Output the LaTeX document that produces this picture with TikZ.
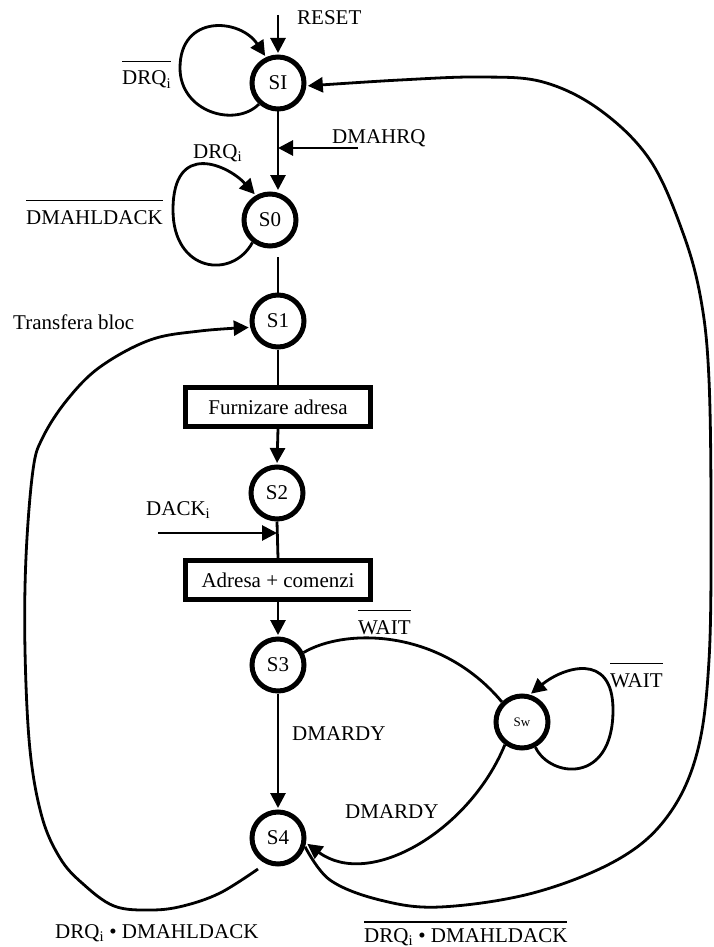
\documentclass[tikz,border=0pt]{standalone}
\usepackage{fontspec}
\setmainfont{Liberation Serif}
\usetikzlibrary{arrows.meta}
\newcommand\ovl[2][1.08em]{\setbox0\hbox{#2}\rlap{\rule[#1]{\wd0}{1.8pt}}\box0}
\begin{document}
\begin{tikzpicture}[x=1pt,y=-1pt,
  state/.style={circle,draw,line width=5pt,minimum size=52pt,inner sep=0pt,font=\fontsize{21}{24}\selectfont},
  smallstate/.style={state,font=\fontsize{13}{15}\selectfont},
  actbox/.style={draw,line width=4.5pt,minimum width=185pt,minimum height=39pt,inner sep=0pt,font=\fontsize{21}{24}\selectfont},
  conn/.style={line width=2.8pt,line join=round},
  arr/.style={conn,-{Triangle[length=15pt,width=15pt]},shorten >=1.5pt},
  lbl/.style={anchor=base west,inner sep=0pt,font=\fontsize{21}{24}\selectfont}]
\useasboundingbox (0,0) rectangle (714,947);

% states
\node[state] (SI) at (278,83) {SI};
\node[state] (S0) at (270,220) {S0};
\node[state] (S1) at (278,321) {S1};
\node[state] (S2) at (277,493) {S2};
\node[state] (S3) at (278,665) {S3};
\node[state] (S4) at (278,838) {S4};
\node[smallstate] (Sw) at (522,722) {Sw};
\node[actbox] (B1) at (278,407) {Furnizare adresa};
\node[actbox] (B2) at (278,580) {Adresa + comenzi};

% free ends
\coordinate (rst) at (278,15);
\coordinate (dmq) at (358,148);
\coordinate (dck) at (158,533);

% labels
\node[lbl] (Lreset) at (297,25) {RESET};
\node[lbl] (Ldrqn) at (122,85) {\ovl{DRQ\textsubscript{i}}};
\node[lbl] (Ldmahrq) at (332,143) {DMAHRQ};
\node[lbl] (Ldrq) at (193,158) {DRQ\textsubscript{i}};
\node[lbl] (Lhldn) at (26,224) {\ovl{DMAHLDACK}};
\node[lbl] (Ltb) at (13,329) {Transfera bloc};
\node[lbl] (Ldack) at (146,515) {DACK\textsubscript{i}};
\node[lbl] (Lwait1) at (358,634) {\ovl{WAIT}};
\node[lbl] (Lrdy1) at (292,740) {DMARDY};
\node[lbl] (Lwait2) at (610,687) {\ovl{WAIT}};
\node[lbl] (Lrdy2) at (345,818) {DMARDY};
\node[lbl] (Lend1) at (55,938) {DRQ\textsubscript{i} • DMAHLDACK};
\node[lbl] (Lend2) at (364,942) {\ovl[0.9em]{DRQ\textsubscript{i} • DMAHLDACK}};

% straight connectors
\draw[arr] (rst) -- (SI.north);
\draw[arr] (SI.south) -- (SI.south |- S0.north);
\draw[arr,shorten >=0pt] (dmq) -- (dmq -| SI.south);
\draw[conn,shorten >=8pt] (S1.north) -- (S1.north |- S0.south);
\draw[conn] (S1.south) -- (B1.north);
\draw[arr] (B1.south) -- (S2.north);
\draw[conn] (S2.south) -- (B2.north);
\draw[arr,shorten >=0pt] (dck) -- (dck -| S2.south);
\draw[arr] (B2.south) -- (S3.north);
\draw[arr] (S3.south) -- (S4.north);

% self loops
\draw[arr] (SI.228) .. controls (235,128) and (180,112) .. (180,68)
                    .. controls (180,14) and (240,18) .. (SI.115);
\draw[arr] (S0.232) .. controls (232,280) and (173,272) .. (173,210)
                    .. controls (173,140) and (228,165) .. (S0.120);
\draw[arr] (Sw.-62) .. controls (550,778) and (613,785) .. (613,710)
                    .. controls (613,650) and (562,668) .. (Sw.74);

% S3 -- Sw
\draw[conn] (S3.26) .. controls (345,628) and (440,628) .. (Sw.135);
% Sw -> S4
\draw[arr] (Sw.233) .. controls (470,830) and (370,890) .. (S4.-10);

% S4 -> SI (right loop)
\draw[arr] plot[smooth,tension=0.6] coordinates {(S4.-18) (330,880) (380,900) (440,907) (533,893) (617,860) (667,817) (697,753) (709,660) (711,520) (709,380) (701,300) (683,233) (650,160) (600,110) (543,82) (480,77) (400,80) (SI.-6)};

% S4 -> S1 (left loop)
\draw[arr] plot[smooth,tension=0.6] coordinates {(258,869) (220,893) (183,906) (151,910) (114,906) (82,883) (60,858) (42,817) (30,750) (25,650) (26,557) (33,470) (43,437) (67,400) (100,367) (150,340) (200,331) (S1.193)};
\end{tikzpicture}
\end{document}
